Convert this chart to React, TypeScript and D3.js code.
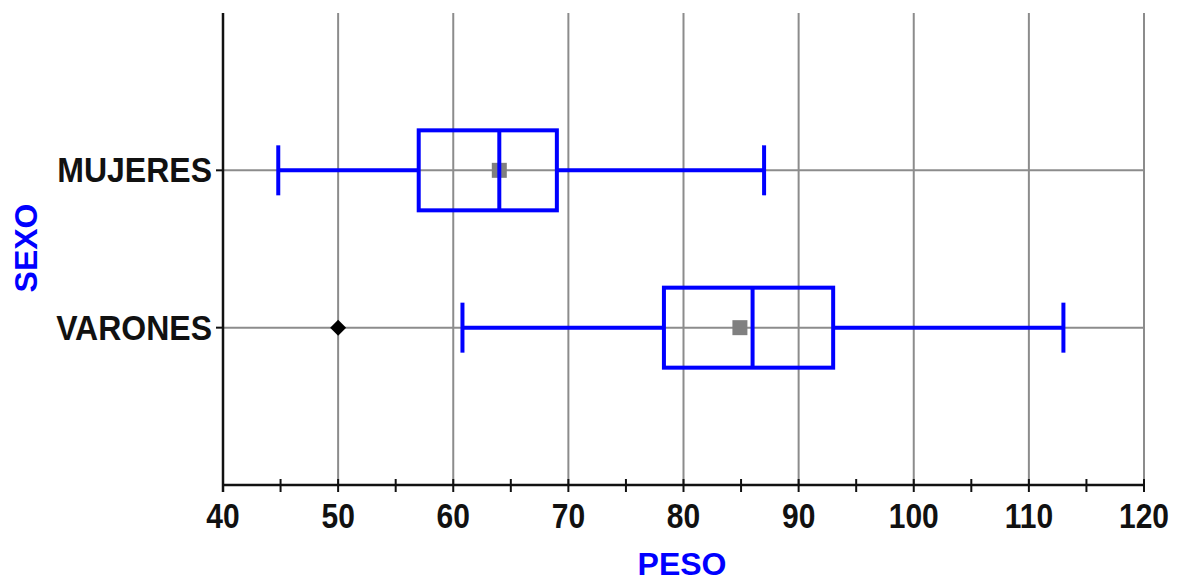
import React from "react";
import * as d3 from "d3";

const categories = ["MUJERES", "VARONES"];
const whiskerLow = [44.8, 60.8];
const q1 = [57, 78.3];
const median = [64, 86];
const q3 = [69, 93];
const whiskerHigh = [87, 113];
const means = [64, 84.9];
const outliers = [{ cat: "VARONES", value: 50 }];
const majorTicks = [40, 50, 60, 70, 80, 90, 100, 110, 120];
const minorTicks = [45, 55, 65, 75, 85, 95, 105, 115];

const W = 1181;
const H = 583;
const left = 223;
const right = 1144;
const top = 13;
const bottom = 485;

export default function App() {
  const x = d3.scaleLinear().domain([40, 120]).range([left, right]);
  const y = d3.scalePoint<string>().domain(categories).range([top, bottom]).padding(1);
  const blue = "#0000ff";
  const grid = "#8c8c8c";
  const font = "'Liberation Sans', Arial, sans-serif";
  const boxH = 40;
  const capH = 25;

  return (
    <svg width={W} height={H} style={{ position: "absolute", left: 0, top: 0, background: "#fff" }}>
      {majorTicks.slice(1).map((t) => (
        <line key={"g" + t} x1={x(t)} x2={x(t)} y1={top} y2={bottom} stroke={grid} strokeWidth={2} />
      ))}
      {categories.map((c) => (
        <line key={"h" + c} x1={left} x2={right} y1={y(c)} y2={y(c)} stroke={grid} strokeWidth={2} />
      ))}
      <line x1={left} x2={left} y1={top} y2={bottom + 7} stroke="#111" strokeWidth={2.5} />
      <line x1={left} x2={right} y1={bottom} y2={bottom} stroke="#111" strokeWidth={2.5} />
      {majorTicks.map((t) => (
        <line key={"t" + t} x1={x(t)} x2={x(t)} y1={bottom - 6} y2={bottom + 7} stroke="#111" strokeWidth={2} />
      ))}
      {minorTicks.map((t) => (
        <line key={"m" + t} x1={x(t)} x2={x(t)} y1={bottom - 6} y2={bottom + 7} stroke="#111" strokeWidth={2} />
      ))}
      {categories.map((c) => (
        <line key={"ct" + c} x1={left - 7} x2={left} y1={y(c)} y2={y(c)} stroke="#111" strokeWidth={2} />
      ))}
      {majorTicks.map((t) => (
        <text
          key={"l" + t}
          transform={`translate(${x(t)},528) scale(1,1.15)`}
          textAnchor="middle"
          fontFamily={font}
          fontWeight="bold"
          fontSize={30}
          fill="#111"
        >
          {t}
        </text>
      ))}
      {categories.map((c) => (
        <text
          key={"cl" + c}
          transform={`translate(212,${(y(c) as number) + 12}) scale(1,1.08)`}
          textAnchor="end"
          fontFamily={font}
          fontWeight="bold"
          fontSize={32}
          fill="#111"
        >
          {c}
        </text>
      ))}
      <text x={682} y={575} textAnchor="middle" fontFamily={font} fontWeight="bold" fontSize={32} fill={blue}>
        PESO
      </text>
      <text
        transform="translate(37,248) rotate(-90)"
        textAnchor="middle"
        fontFamily={font}
        fontWeight="bold"
        fontSize={32}
        fill={blue}
      >
        SEXO
      </text>
      {categories.map((c, i) => {
        const cy = y(c) as number;
        return (
          <g key={"b" + c} stroke={blue} strokeWidth={4} fill="none">
            <line x1={x(whiskerLow[i])} x2={x(q1[i])} y1={cy} y2={cy} />
            <line x1={x(q3[i])} x2={x(whiskerHigh[i])} y1={cy} y2={cy} />
            <line x1={x(whiskerLow[i])} x2={x(whiskerLow[i])} y1={cy - capH} y2={cy + capH} />
            <line x1={x(whiskerHigh[i])} x2={x(whiskerHigh[i])} y1={cy - capH} y2={cy + capH} />
            <rect x={x(q1[i])} y={cy - boxH} width={x(q3[i]) - x(q1[i])} height={boxH * 2} />
            <rect x={x(means[i]) - 7.5} y={cy - 7.5} width={15} height={15} fill="#808080" stroke="none" />
            <line x1={x(median[i])} x2={x(median[i])} y1={cy - boxH} y2={cy + boxH} />
          </g>
        );
      })}
      {outliers.map((o, i) => {
        const cx = x(o.value);
        const cy = y(o.cat) as number;
        const r = 8;
        return (
          <path
            key={"o" + i}
            d={`M${cx},${cy - r}L${cx + r},${cy}L${cx},${cy + r}L${cx - r},${cy}Z`}
            fill="#000"
          />
        );
      })}
    </svg>
  );
}
